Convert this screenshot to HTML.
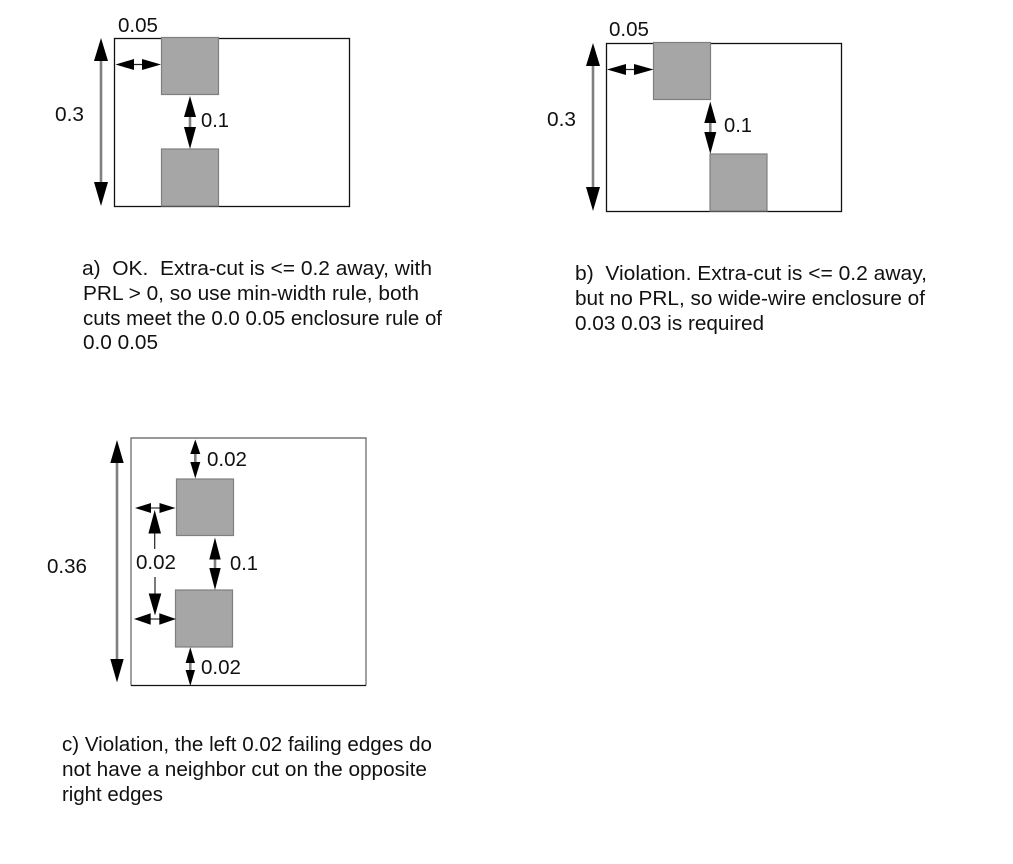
<!DOCTYPE html>
<html><head><meta charset="utf-8"><style>
html,body{margin:0;padding:0;background:#fff}
svg{display:block}
text{font-family:"Liberation Sans",Arial,sans-serif;font-size:20px;fill:#111;white-space:pre}
.cut{fill:#a6a6a6;stroke:#7f7f7f;stroke-width:1.2}
.fr{fill:none;stroke:#111;stroke-width:1.3}
</style></head><body>
<svg width="1013" height="864" viewBox="0 0 1013 864" xmlns="http://www.w3.org/2000/svg">
<!-- Panel a -->
<rect class="fr" x="114.5" y="38.5" width="235" height="168"/>
<rect class="cut" x="161.5" y="37.5" width="57" height="57"/>
<rect class="cut" x="161.5" y="149" width="57" height="57"/>
<line x1="101" y1="50" x2="101" y2="195" stroke="#808080" stroke-width="2.6"/>
<polygon points="101,38 108,61 94,61"/><polygon points="101,206 108,182 94,182"/>
<line x1="125" y1="64.5" x2="152" y2="64.5" stroke="#222" stroke-width="1.2"/>
<polygon points="115.5,64.5 134,59 134,70"/><polygon points="161,64.5 142,59 142,70"/>
<line x1="190" y1="110" x2="190" y2="135" stroke="#808080" stroke-width="2.6"/>
<polygon points="190,96 196,117 184,117"/><polygon points="190,149 196,127 184,127"/>
<text x="118" y="32" textLength="40" lengthAdjust="spacingAndGlyphs">0.05</text>
<text x="55" y="121" textLength="29" lengthAdjust="spacingAndGlyphs">0.3</text>
<text x="201" y="127" textLength="28" lengthAdjust="spacingAndGlyphs">0.1</text>
<text x="82" y="275" textLength="350" lengthAdjust="spacingAndGlyphs">a)  OK.  Extra-cut is &lt;= 0.2 away, with</text>
<text x="83" y="300" textLength="336" lengthAdjust="spacingAndGlyphs">PRL &gt; 0, so use min-width rule, both</text>
<text x="83" y="325" textLength="359" lengthAdjust="spacingAndGlyphs">cuts meet the 0.0 0.05 enclosure rule of</text>
<text x="83" y="349" textLength="75" lengthAdjust="spacingAndGlyphs">0.0 0.05</text>
<!-- Panel b -->
<rect class="fr" x="606.5" y="43.5" width="235" height="168"/>
<rect class="cut" x="653.5" y="42.5" width="57" height="57"/>
<rect class="cut" x="710" y="154" width="57" height="57"/>
<line x1="593" y1="55" x2="593" y2="200" stroke="#808080" stroke-width="2.6"/>
<polygon points="593,43 600,66 586,66"/><polygon points="593,211 600,187 586,187"/>
<line x1="617" y1="69.5" x2="644" y2="69.5" stroke="#222" stroke-width="1.2"/>
<polygon points="607,69.5 626,64 626,75"/><polygon points="653.5,69.5 634,64 634,75"/>
<line x1="710.3" y1="115" x2="710.3" y2="140" stroke="#808080" stroke-width="2.6"/>
<polygon points="710.3,101.5 716.3,123 704.3,123"/><polygon points="710.3,154 716.3,132 704.3,132"/>
<text x="609" y="36" textLength="40" lengthAdjust="spacingAndGlyphs">0.05</text>
<text x="547" y="126" textLength="29" lengthAdjust="spacingAndGlyphs">0.3</text>
<text x="724" y="132" textLength="28" lengthAdjust="spacingAndGlyphs">0.1</text>
<text x="575" y="280" textLength="352" lengthAdjust="spacingAndGlyphs">b)  Violation. Extra-cut is &lt;= 0.2 away,</text>
<text x="575" y="305" textLength="350" lengthAdjust="spacingAndGlyphs">but no PRL, so wide-wire enclosure of</text>
<text x="575" y="330" textLength="189" lengthAdjust="spacingAndGlyphs">0.03 0.03 is required</text>
<!-- Panel c -->
<path d="M131,685.5 V438 H366 V685.5" fill="none" stroke="#777" stroke-width="1.4"/>
<line x1="131" y1="685.5" x2="366" y2="685.5" stroke="#111" stroke-width="1.3"/>
<rect class="cut" x="176.5" y="479" width="57" height="56.5"/>
<rect class="cut" x="175.5" y="590" width="57" height="57"/>
<line x1="117" y1="455" x2="117" y2="670" stroke="#808080" stroke-width="2.6"/>
<polygon points="117,440 123.7,463 110.3,463"/><polygon points="117,682.5 123.7,659 110.3,659"/>
<line x1="195.3" y1="450" x2="195.3" y2="466" stroke="#808080" stroke-width="2.6"/>
<polygon points="195.3,439.5 200.3,454 190.3,454"/><polygon points="195.3,478.5 200.3,462 190.3,462"/>
<line x1="145" y1="508" x2="165" y2="508" stroke="#808080" stroke-width="2"/>
<polygon points="135,508 151,503 151,513"/><polygon points="175.5,508 159.5,503 159.5,513"/>
<line x1="154.7" y1="525" x2="154.7" y2="549" stroke="#222" stroke-width="1.2"/>
<polygon points="154.7,510 161,533.5 148.4,533.5"/>
<line x1="155" y1="577" x2="155" y2="600" stroke="#222" stroke-width="1.2"/>
<polygon points="155,615.5 161.3,593.5 148.7,593.5"/>
<line x1="145" y1="619" x2="165" y2="619" stroke="#808080" stroke-width="2"/>
<polygon points="134,619 150.7,613.2 150.7,624.8"/><polygon points="176,619 159.3,613.2 159.3,624.8"/>
<line x1="215" y1="550" x2="215" y2="578" stroke="#808080" stroke-width="2.6"/>
<polygon points="215,537.5 220.7,559.5 209.3,559.5"/><polygon points="215,590 220.7,568 209.3,568"/>
<line x1="190.3" y1="658" x2="190.3" y2="676" stroke="#808080" stroke-width="2.6"/>
<polygon points="190.3,647.3 195,663 185.6,663"/><polygon points="190.3,686 195,670 185.6,670"/>
<text x="47" y="573" textLength="40" lengthAdjust="spacingAndGlyphs">0.36</text>
<text x="207" y="466" textLength="40" lengthAdjust="spacingAndGlyphs">0.02</text>
<text x="136" y="569" textLength="40" lengthAdjust="spacingAndGlyphs">0.02</text>
<text x="230" y="570" textLength="28" lengthAdjust="spacingAndGlyphs">0.1</text>
<text x="201" y="674" textLength="40" lengthAdjust="spacingAndGlyphs">0.02</text>
<text x="62" y="751" textLength="370" lengthAdjust="spacingAndGlyphs">c) Violation, the left 0.02 failing edges do</text>
<text x="62" y="776" textLength="365" lengthAdjust="spacingAndGlyphs">not have a neighbor cut on the opposite</text>
<text x="62" y="801" textLength="101" lengthAdjust="spacingAndGlyphs">right edges</text>
</svg>
</body></html>
